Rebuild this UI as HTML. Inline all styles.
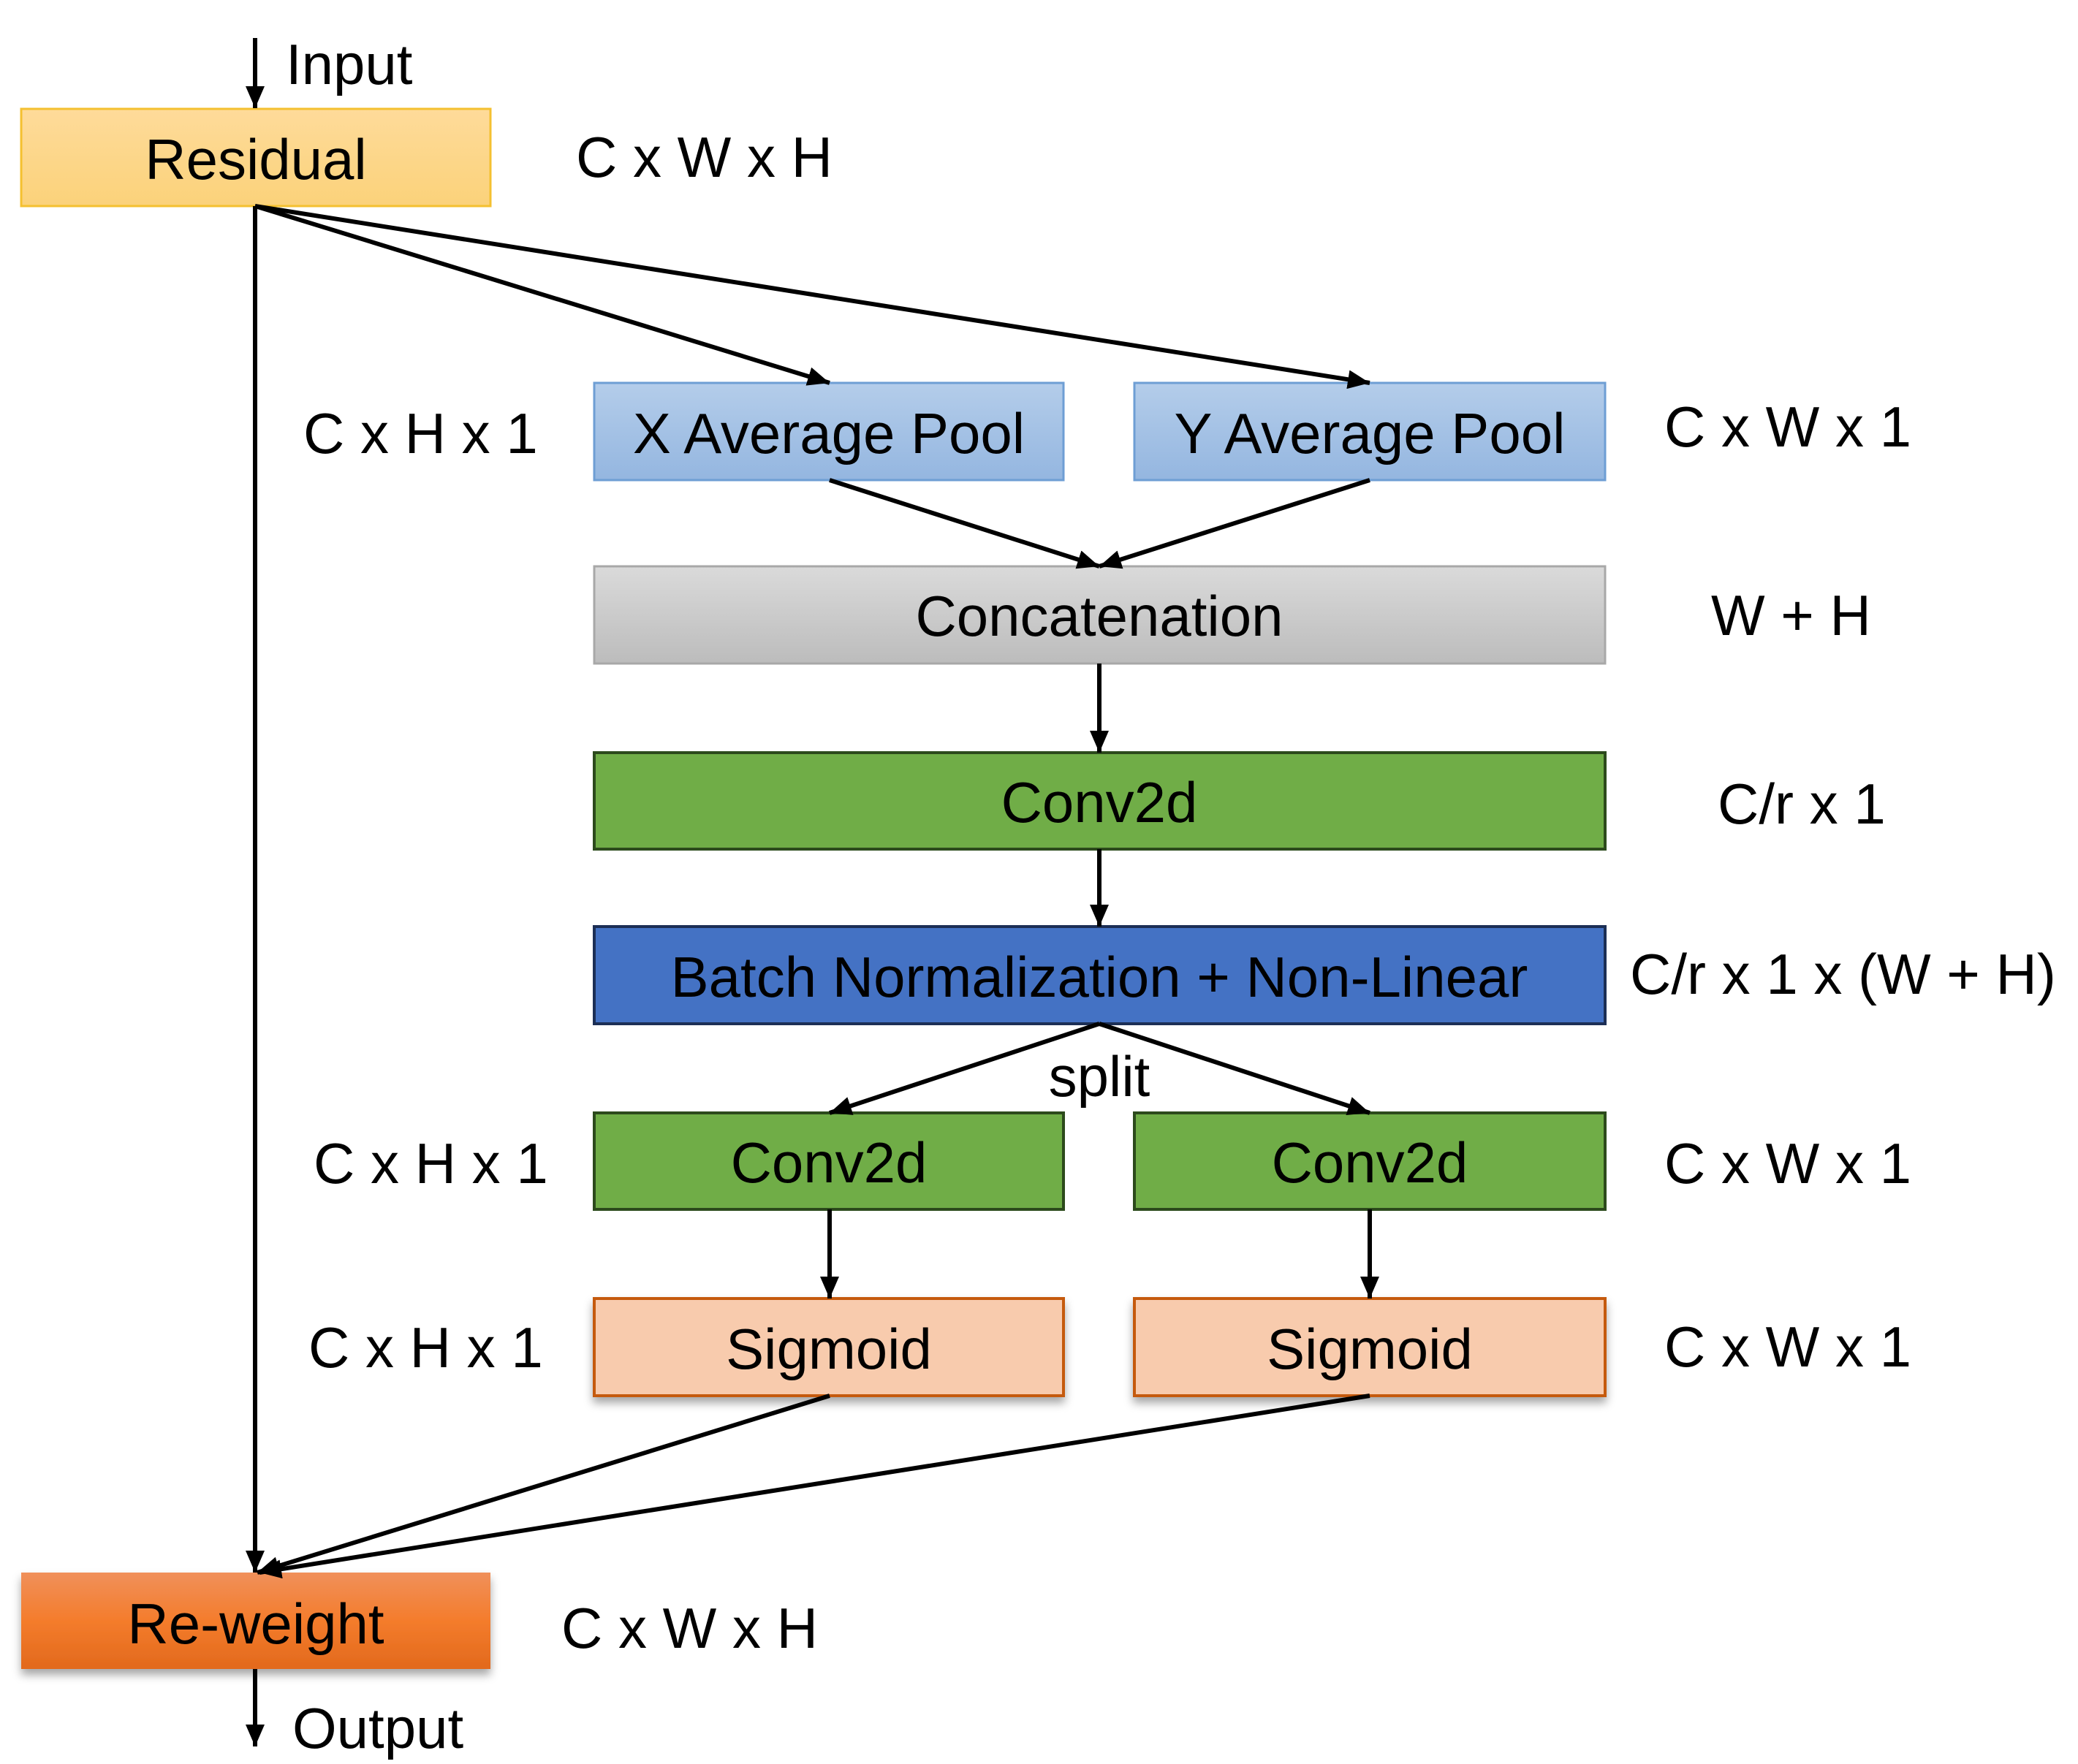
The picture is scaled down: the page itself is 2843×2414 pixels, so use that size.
<!DOCTYPE html>
<html><head><meta charset="utf-8"><style>
html,body{margin:0;padding:0;background:#fff;}
svg{display:block;}
text{font-family:"Liberation Sans",Arial,sans-serif;font-size:78px;fill:#000;}
</style></head><body>
<svg width="2843" height="2414" viewBox="0 0 2843 2414" xmlns="http://www.w3.org/2000/svg">
<defs>
<marker id="a" markerWidth="10" markerHeight="8" refX="9.5" refY="4" orient="auto" markerUnits="userSpaceOnUse" viewBox="0 0 10 8">
</marker>
<marker id="ah" viewBox="0 0 10 10" refX="10" refY="5" markerWidth="30" markerHeight="26" markerUnits="userSpaceOnUse" orient="auto" preserveAspectRatio="none"><path d="M0,0 L10,5 L0,10 z" fill="#000"/></marker>
<linearGradient id="gres" x1="0" y1="0" x2="0" y2="1"><stop offset="0" stop-color="#fedb9a"/><stop offset="1" stop-color="#fbd27a"/></linearGradient>
<linearGradient id="gpool" x1="0" y1="0" x2="0" y2="1"><stop offset="0" stop-color="#b4cdea"/><stop offset="1" stop-color="#94b6e0"/></linearGradient>
<linearGradient id="gcat" x1="0" y1="0" x2="0" y2="1"><stop offset="0" stop-color="#dadada"/><stop offset="1" stop-color="#bcbcbc"/></linearGradient>
<linearGradient id="grw" x1="0" y1="0" x2="0" y2="1"><stop offset="0" stop-color="#f0905a"/><stop offset="0.5" stop-color="#f47c2c"/><stop offset="1" stop-color="#e2691c"/></linearGradient>
<filter id="sh" x="-10%" y="-10%" width="120%" height="140%"><feDropShadow dx="0" dy="8" stdDeviation="6" flood-color="#000" flood-opacity="0.35"/></filter>
</defs>

<!-- boxes -->
<rect x="29" y="149" width="642" height="133" fill="url(#gres)" stroke="#f4c030" stroke-width="3"/>
<rect x="813" y="524" width="642" height="133" fill="url(#gpool)" stroke="#6e9ed4" stroke-width="3"/>
<rect x="1552" y="524" width="644" height="133" fill="url(#gpool)" stroke="#6e9ed4" stroke-width="3"/>
<rect x="813" y="775" width="1383" height="133" fill="url(#gcat)" stroke="#a8a8a8" stroke-width="3"/>
<rect x="813" y="1030" width="1383" height="132" fill="#70ad47" stroke="#2c4a1c" stroke-width="4"/>
<rect x="813" y="1268" width="1383" height="133" fill="#4472c4" stroke="#1c2f55" stroke-width="4"/>
<rect x="813" y="1523" width="642" height="132" fill="#70ad47" stroke="#2c4a1c" stroke-width="4"/>
<rect x="1552" y="1523" width="644" height="132" fill="#70ad47" stroke="#2c4a1c" stroke-width="4"/>
<rect x="813" y="1777" width="642" height="133" fill="#f8cbad" stroke="#c55a11" stroke-width="4" filter="url(#sh)"/>
<rect x="1552" y="1777" width="644" height="133" fill="#f8cbad" stroke="#c55a11" stroke-width="4" filter="url(#sh)"/>
<rect x="29" y="2152" width="642" height="132" fill="url(#grw)" filter="url(#sh)"/>

<!-- lines -->
<g stroke="#000" stroke-width="6" fill="none" marker-end="url(#ah)">
<line x1="349" y1="52" x2="349" y2="148"/>
<line x1="349" y1="282" x2="349" y2="2152"/>
<line x1="349" y1="282" x2="1135" y2="524"/>
<line x1="349" y1="282" x2="1874" y2="524"/>
<line x1="1135" y1="657" x2="1504" y2="775"/>
<line x1="1874" y1="657" x2="1504" y2="775"/>
<line x1="1504" y1="908" x2="1504" y2="1030"/>
<line x1="1504" y1="1162" x2="1504" y2="1268"/>
<line x1="1504" y1="1401" x2="1135" y2="1523"/>
<line x1="1504" y1="1401" x2="1874" y2="1523"/>
<line x1="1135" y1="1655" x2="1135" y2="1777"/>
<line x1="1874" y1="1655" x2="1874" y2="1777"/>
<line x1="1135" y1="1910" x2="352" y2="2152"/>
<line x1="1874" y1="1910" x2="355" y2="2152"/>
<line x1="349" y1="2284" x2="349" y2="2390"/>
</g>

<!-- box text -->
<g text-anchor="middle" dominant-baseline="central">
<text x="350" y="218">Residual</text>
<text x="1134" y="593">X Average Pool</text>
<text x="1874" y="593">Y Average Pool</text>
<text x="1504" y="843">Concatenation</text>
<text x="1504" y="1098">Conv2d</text>
<text x="1504" y="1337">Batch Normalization + Non-Linear</text>
<text x="1134" y="1591">Conv2d</text>
<text x="1874" y="1591">Conv2d</text>
<text x="1134" y="1846">Sigmoid</text>
<text x="1874" y="1846">Sigmoid</text>
<text x="350" y="2222">Re-weight</text>
<text x="1504" y="1473">split</text>
</g>

<!-- side labels -->
<g dominant-baseline="central">
<text x="391" y="88">Input</text>
<text x="788" y="215">C x W x H</text>
<text x="415" y="593">C x H x 1</text>
<text x="2277" y="584">C x W x 1</text>
<text x="2341" y="842">W + H</text>
<text x="2350" y="1100">C/r x 1</text>
<text x="2230" y="1333">C/r x 1 x (W + H)</text>
<text x="429" y="1592">C x H x 1</text>
<text x="2277" y="1592">C x W x 1</text>
<text x="422" y="1844">C x H x 1</text>
<text x="2277" y="1843">C x W x 1</text>
<text x="768" y="2228">C x W x H</text>
<text x="400" y="2365">Output</text>
</g>
</svg>
</body></html>
